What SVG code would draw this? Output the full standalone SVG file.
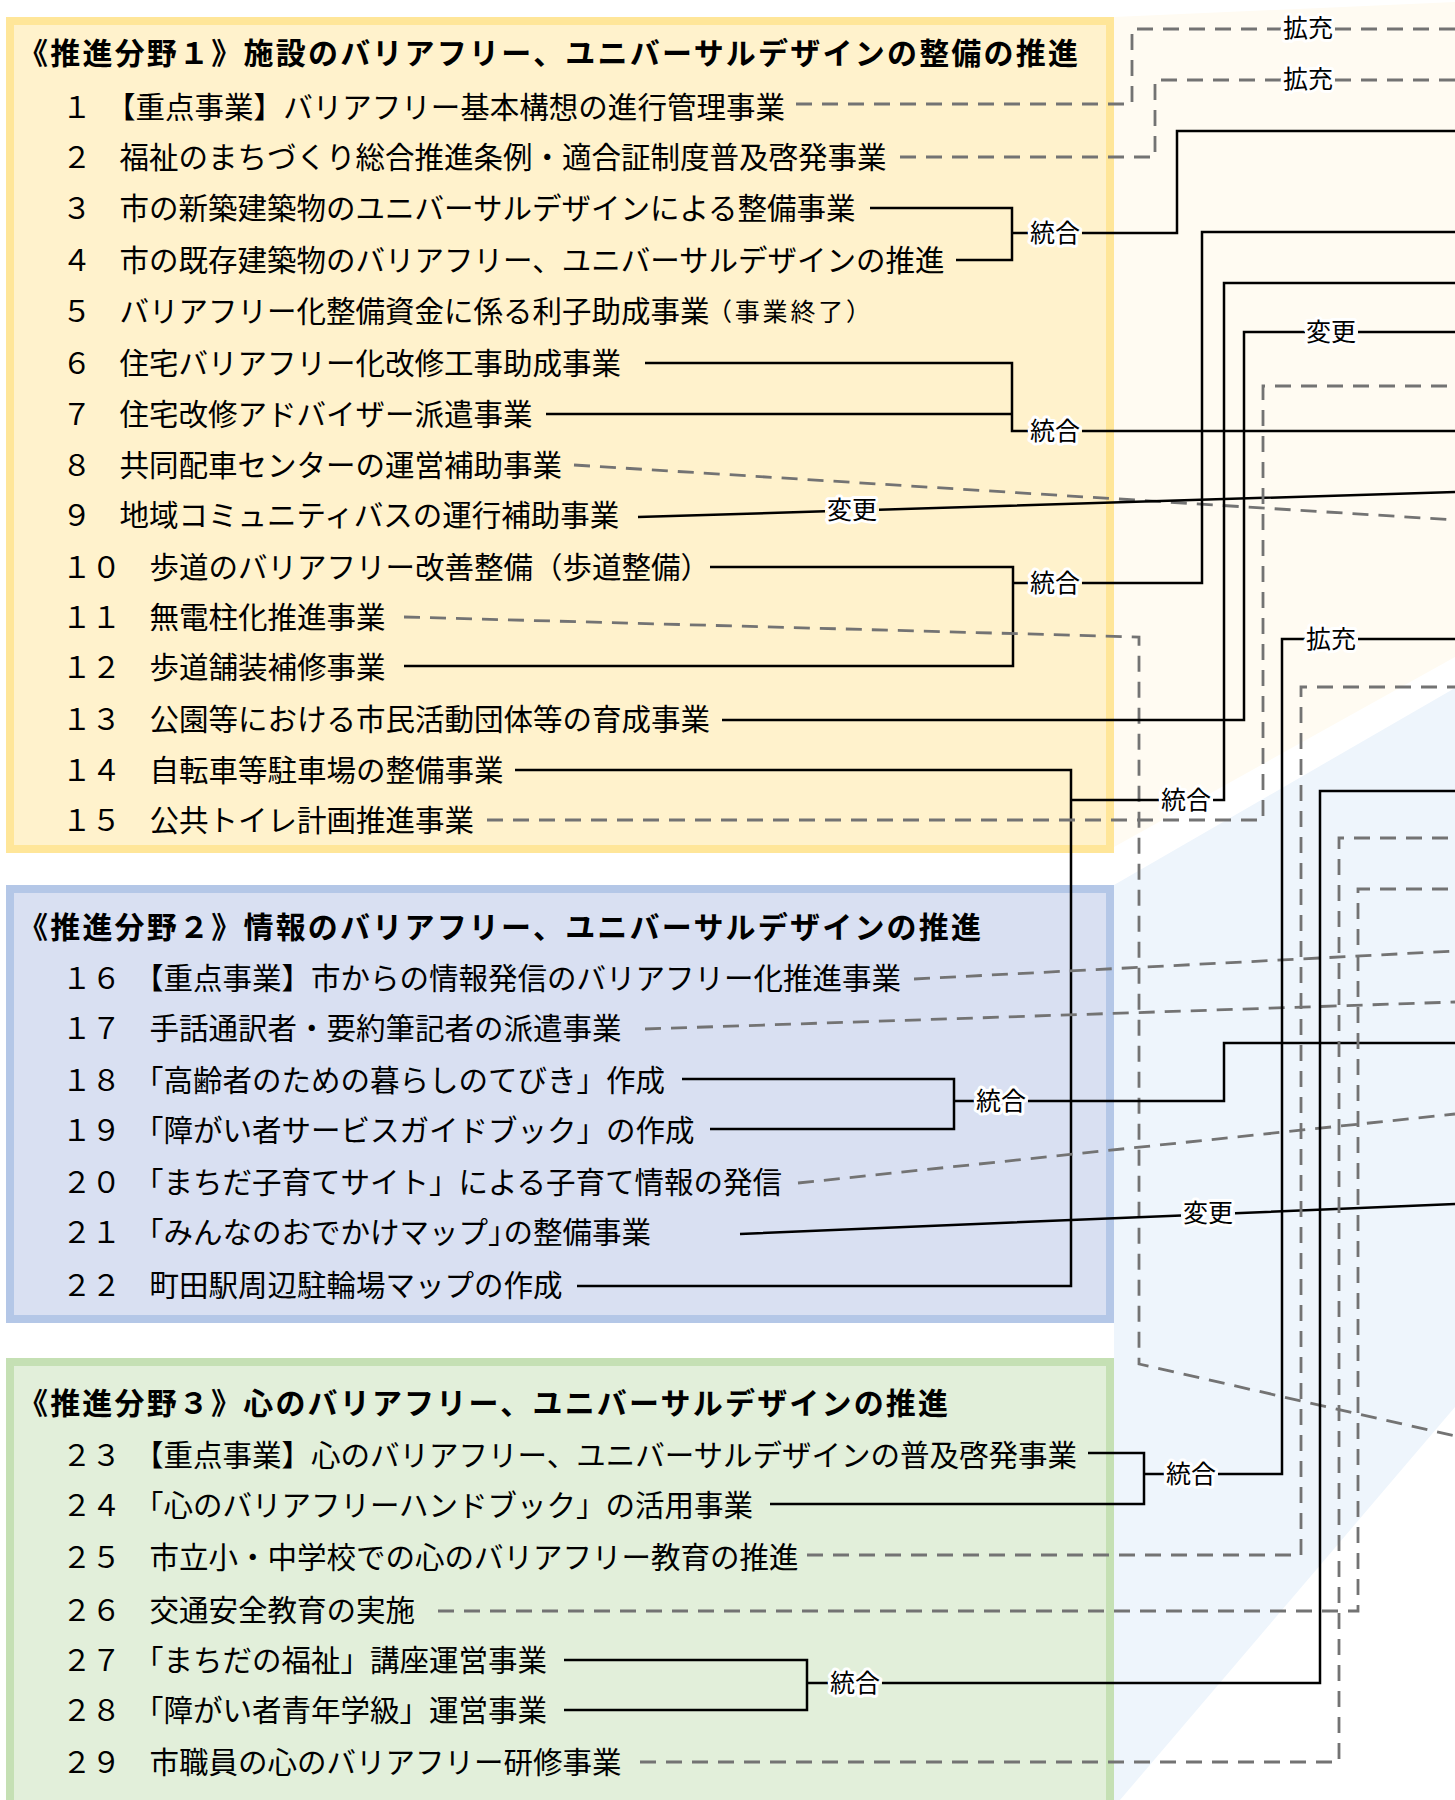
<svg xmlns="http://www.w3.org/2000/svg" width="1455" height="1800" viewBox="0 0 1455 1800">
<style>
text{font-family:"Noto Sans CJK JP","Noto Sans CJK SC",sans-serif;fill:#000}
.t{font-size:29.5px}
.h{font-size:30px;font-weight:bold}
.sm{font-size:25px}
.lb{font-size:25px;text-anchor:middle;paint-order:stroke;stroke:#fff;stroke-width:6px;stroke-linejoin:round}
.s{fill:none;stroke:#000;stroke-width:2.5}
.d{fill:none;stroke:#737373;stroke-width:2.8;stroke-dasharray:16 10}
.p1{fill:#FFF2CC;stroke:#FFE699;stroke-width:8}
.p2{fill:#D9E0F2;stroke:#B4C7E7;stroke-width:8}
.p3{fill:#E2EFDA;stroke:#C5E0B4;stroke-width:8}
</style>
<rect width="1455" height="1800" fill="#fff"/>
<polygon points="1114,17 1455,2 1455,657 1114,847" fill="#FFFBF2"/>
<polygon points="1114,885 1455,688 1455,1407 1120,1800 1114,1800" fill="#EEF5FC"/>

<g id="panel1">
<rect class="p1" x="10" y="21" width="1100" height="828"/>
<text class="h" x="18" y="64" textLength="1060">《推進分野１》施設のバリアフリー、ユニバーサルデザインの整備の推進</text>
</g>
<g id="panel2">
<rect class="p2" x="10" y="889" width="1100" height="430"/>
<text class="h" x="18" y="938" textLength="963">《推進分野２》情報のバリアフリー、ユニバーサルデザインの推進</text>
</g>
<g id="panel3">
<rect class="p3" x="10" y="1362" width="1100" height="446"/>
<text class="h" x="18" y="1414" textLength="930">《推進分野３》心のバリアフリー、ユニバーサルデザインの推進</text>
</g>

<g id="item1"><text class="t" x="62" y="118">１</text><text class="t" x="106" y="118" textLength="679">【重点事業】バリアフリー基本構想の進行管理事業</text></g>
<g id="item2"><text class="t" x="62" y="168">２</text><text class="t" x="119.5" y="168">福祉のまちづくり総合推進条例・適合証制度普及啓発事業</text></g>
<g id="item3"><text class="t" x="62" y="219">３</text><text class="t" x="119.5" y="219">市の新築建築物のユニバーサルデザインによる整備事業</text></g>
<g id="item4"><text class="t" x="62" y="271">４</text><text class="t" x="119.5" y="271">市の既存建築物のバリアフリー、ユニバーサルデザインの推進</text></g>
<g id="item5"><text class="t" x="62" y="322">５</text><text class="t" x="119.5" y="322">バリアフリー化整備資金に係る利子助成事業</text><text class="sm" x="707" y="321" textLength="164">（事業終了）</text></g>
<g id="item6"><text class="t" x="62" y="374">６</text><text class="t" x="119.5" y="374">住宅バリアフリー化改修工事助成事業</text></g>
<g id="item7"><text class="t" x="62" y="425">７</text><text class="t" x="119.5" y="425">住宅改修アドバイザー派遣事業</text></g>
<g id="item8"><text class="t" x="62" y="476">８</text><text class="t" x="119.5" y="476">共同配車センターの運営補助事業</text></g>
<g id="item9"><text class="t" x="62" y="526">９</text><text class="t" x="119.5" y="526">地域コミュニティバスの運行補助事業</text></g>
<g id="item10"><text class="t" x="62" y="578">１０</text><text class="t" x="149.5" y="578">歩道のバリアフリー改善整備（歩道整備）</text></g>
<g id="item11"><text class="t" x="62" y="628">１１</text><text class="t" x="149.5" y="628">無電柱化推進事業</text></g>
<g id="item12"><text class="t" x="62" y="678">１２</text><text class="t" x="149.5" y="678">歩道舗装補修事業</text></g>
<g id="item13"><text class="t" x="62" y="730">１３</text><text class="t" x="149.5" y="730">公園等における市民活動団体等の育成事業</text></g>
<g id="item14"><text class="t" x="62" y="781">１４</text><text class="t" x="149.5" y="781">自転車等駐車場の整備事業</text></g>
<g id="item15"><text class="t" x="62" y="831">１５</text><text class="t" x="149.5" y="831">公共トイレ計画推進事業</text></g>
<g id="item16"><text class="t" x="62" y="989">１６</text><text class="t" x="134" y="989">【重点事業】市からの情報発信のバリアフリー化推進事業</text></g>
<g id="item17"><text class="t" x="62" y="1039">１７</text><text class="t" x="149.5" y="1039">手話通訳者・要約筆記者の派遣事業</text></g>
<g id="item18"><text class="t" x="62" y="1091">１８</text><text class="t" x="134" y="1091">「高齢者のための暮らしのてびき」作成</text></g>
<g id="item19"><text class="t" x="62" y="1141">１９</text><text class="t" x="134" y="1141">「障がい者サービスガイドブック」の作成</text></g>
<g id="item20"><text class="t" x="62" y="1193">２０</text><text class="t" x="134" y="1193">「まちだ子育てサイト」による子育て情報の発信</text></g>
<g id="item21"><text class="t" x="62" y="1243">２１</text><text class="t" x="134" y="1243">「みんなのおでかけマップ」<tspan dx="-14">の整備事業</tspan></text></g>
<g id="item22"><text class="t" x="62" y="1296">２２</text><text class="t" x="149.5" y="1296">町田駅周辺駐輪場マップの作成</text></g>
<g id="item23"><text class="t" x="62" y="1466">２３</text><text class="t" x="134" y="1466">【重点事業】心のバリアフリー、ユニバーサルデザインの普及啓発事業</text></g>
<g id="item24"><text class="t" x="62" y="1516">２４</text><text class="t" x="134" y="1516">「心のバリアフリーハンドブック」の活用事業</text></g>
<g id="item25"><text class="t" x="62" y="1568">２５</text><text class="t" x="149.5" y="1568">市立小・中学校での心のバリアフリー教育の推進</text></g>
<g id="item26"><text class="t" x="62" y="1621">２６</text><text class="t" x="149.5" y="1621">交通安全教育の実施</text></g>
<g id="item27"><text class="t" x="62" y="1671">２７</text><text class="t" x="134" y="1671">「まちだの福祉」講座運営事業</text></g>
<g id="item28"><text class="t" x="62" y="1721">２８</text><text class="t" x="134" y="1721">「障がい者青年学級」運営事業</text></g>
<g id="item29"><text class="t" x="62" y="1773">２９</text><text class="t" x="149.5" y="1773">市職員の心のバリアフリー研修事業</text></g>

<g id="connectors">
<path class="d" d="M796,104H1132V29H1281M1335,29H1455"/>
<path class="d" d="M900,157H1155V80H1281M1335,80H1455"/>
<path class="s" d="M870,208H1012V260H956M1012,233H1028M1082,233H1177V131H1455"/>
<path class="s" d="M645,363H1012V431H1028M546,414H1012M1082,431H1455"/>
<path class="d" d="M574,465L1455,520"/>
<path class="s" d="M638,517L825,511.3M879,509.7L1455,492"/>
<path class="s" d="M710,567H1013V666H404M1013,583H1028M1082,583H1202V232H1455"/>
<path class="d" d="M404,617L1139,637V1364L1455,1436"/>
<path class="s" d="M722,720H1244V332H1305M1358,332H1455"/>
<path class="s" d="M515,770H1071V1286H577M1071,800H1159M1213,800H1224V283H1455"/>
<path class="d" d="M487,820H1263V386H1455"/>
<path class="d" d="M914,979L1455,951"/>
<path class="d" d="M645,1029L1455,1002"/>
<path class="s" d="M682,1079H954V1129H710M954,1101H974M1028,1101H1224V1043H1455"/>
<path class="d" d="M798,1183L1455,1114"/>
<path class="s" d="M740,1234L1181,1215.4M1235,1213.3L1455,1204"/>
<path class="s" d="M1088,1453H1144V1504H770M1144,1474H1164M1218,1474H1282V639H1305M1358,639H1455"/>
<path class="d" d="M807,1555H1301V687H1455"/>
<path class="d" d="M438,1611H1358V889H1455"/>
<path class="s" d="M564,1660H807V1710H564M807,1683H828M882,1683H1320V791H1455"/>
<path class="d" d="M640,1762H1339V838H1455"/>
<text class="lb" x="1308" y="37">拡充</text>
<text class="lb" x="1308" y="88">拡充</text>
<text class="lb" x="1055" y="242">統合</text>
<text class="lb" x="1055" y="440">統合</text>
<text class="lb" x="852" y="519">変更</text>
<text class="lb" x="1055" y="592">統合</text>
<text class="lb" x="1331" y="341">変更</text>
<text class="lb" x="1186" y="809">統合</text>
<text class="lb" x="1331" y="648">拡充</text>
<text class="lb" x="1001" y="1110">統合</text>
<text class="lb" x="1208" y="1222">変更</text>
<text class="lb" x="1191" y="1483">統合</text>
<text class="lb" x="855" y="1692">統合</text>
</g>
</svg>
